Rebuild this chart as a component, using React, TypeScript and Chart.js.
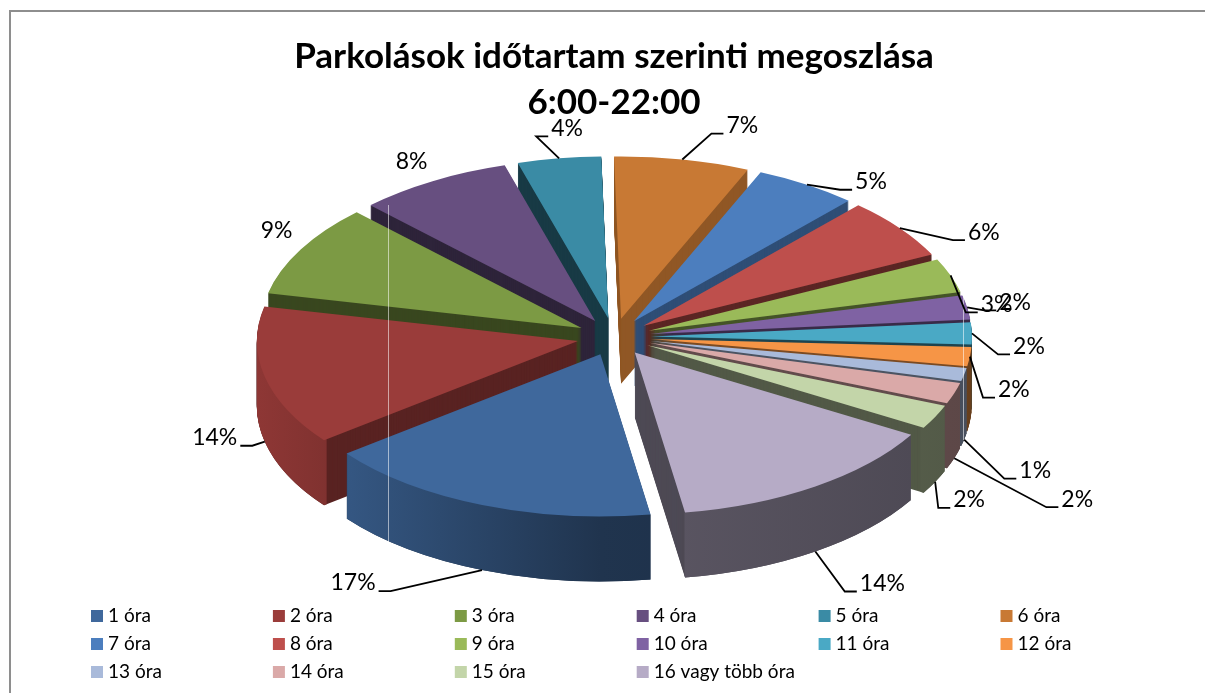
import React, { useEffect, useRef } from "react";
import { Chart, registerables } from "chart.js";

Chart.register(...registerables);

const titleLines = ["Parkolások időtartam szerinti megoszlása", "6:00-22:00"];
const categories = [
  "1 óra", "2 óra", "3 óra", "4 óra", "5 óra", "6 óra", "7 óra", "8 óra",
  "9 óra", "10 óra", "11 óra", "12 óra", "13 óra", "14 óra", "15 óra", "16 vagy több óra",
];
const shares = [17.0, 13.9, 9.2, 7.8, 4.2, 6.8, 5.2, 6.1, 3.4, 2.4, 2.2, 1.9, 1.3, 2.1, 2.4, 14.0];
const sliceColors = [
  "#3F689C", "#9A3C3A", "#7C9A44", "#674F80", "#3A8BA5", "#C87934", "#4C7EBE", "#BE4F4C",
  "#9ABA59", "#7F62A3", "#4AA9C5", "#F69546", "#A9BADA", "#DAA9A8", "#C3D5A9", "#B6ABC6",
];
const radialWallShade = [0.5, 0.58, 0.46, 0.45, 0.42, 0.72, 0.62, 0.48, 0.45, 0.45, 0.4, 0.5, 0.45, 0.45, 0.42, 0.43];
const labelDx = [-129, -50, -24, -21, 8, 60, 64, 84, 46, 48, 57, 44, 71, 123, 34, 67];
const labelDy = [13, -4, -19, -20, -30, -34, -3, 4, 29, -5, 13, 33, 31, 41, 18, 32];
const hasLeader = [1, 1, 0, 0, 1, 1, 1, 1, 1, 1, 1, 1, 1, 1, 1, 1];

const CX = 614;
const CY = 337;
const RADIUS = 321;
const SQUASH = 0.505;
const EXPLODE = 37;
const DEPTH = 65;
const FONT = "Lato, 'Open Sans', sans-serif";

function shade(hex: string, f: number) {
  const n = parseInt(hex.slice(1), 16);
  const r = Math.round(((n >> 16) & 255) * f);
  const g = Math.round(((n >> 8) & 255) * f);
  const b = Math.round((n & 255) * f);
  return `rgb(${r},${g},${b})`;
}

const baseOpts = {
  borderWidth: 0,
  borderColor: "transparent",
  borderAlign: "center",
  borderRadius: 0,
  borderJoinStyle: "round",
  borderDash: [],
  borderDashOffset: 0,
  offset: 0,
  spacing: 0,
  circular: true,
};

// Parts of a slice's angular span that face the viewer (lower half of the ellipse).
function frontSpans(start: number, end: number) {
  const spans: [number, number][] = [];
  for (let k = -2; k <= 2; k++) {
    const a = Math.max(start, k * 2 * Math.PI);
    const b = Math.min(end, k * 2 * Math.PI + Math.PI);
    if (b > a) spans.push([a, b]);
  }
  return spans;
}

const pie3d = {
  id: "pie3d",
  beforeDraw(chart: any) {
    const { ctx } = chart;
    ctx.save();
    ctx.strokeStyle = "#8e8e8e";
    ctx.lineWidth = 2;
    ctx.beginPath();
    ctx.moveTo(10, 693);
    ctx.lineTo(10, 11);
    ctx.lineTo(1205, 11);
    ctx.stroke();
    ctx.restore();
  },
  beforeDatasetDraw(chart: any) {
    const { ctx } = chart;
    const arcs: any[] = chart.getDatasetMeta(0).data;
    const order = arcs
      .map((arc, i) => ({ arc, i, mid: (arc.startAngle + arc.endAngle) / 2 }))
      .sort((a, b) => Math.sin(a.mid) - Math.sin(b.mid));

    const place = (arc: any, mid: number, down: number) => {
      ctx.save();
      ctx.translate(CX, CY + down);
      ctx.scale(1, SQUASH);
      ctx.translate(Math.cos(mid) * EXPLODE - arc.x, Math.sin(mid) * EXPLODE - arc.y);
    };

    for (const { arc, i, mid } of order) {
      const saved = arc.options;
      const base = sliceColors[i];
      // radial walls
      arc.options = { ...baseOpts, backgroundColor: shade(base, radialWallShade[i]) };
      for (let d = DEPTH; d >= 1; d--) {
        place(arc, mid, d);
        arc.draw(ctx);
        ctx.restore();
      }
      // rounded outer wall: only where it faces the viewer
      const g = ctx.createLinearGradient(arc.x - RADIUS, 0, arc.x + RADIUS, 0);
      g.addColorStop(0, shade(base, 0.92));
      g.addColorStop(0.5, shade(base, 0.5));
      g.addColorStop(1, shade(base, 0.42));
      arc.options = { ...baseOpts, backgroundColor: g };
      const keep = {
        innerRadius: arc.innerRadius,
        startAngle: arc.startAngle,
        endAngle: arc.endAngle,
        circumference: arc.circumference,
      };
      arc.innerRadius = arc.outerRadius - 4;
      for (const [a, b] of frontSpans(keep.startAngle, keep.endAngle)) {
        arc.startAngle = a;
        arc.endAngle = b;
        arc.circumference = b - a;
        for (let d = DEPTH; d >= 1; d--) {
          place(arc, mid, d);
          arc.draw(ctx);
          ctx.restore();
        }
      }
      Object.assign(arc, keep);
      // top face
      arc.options = { ...baseOpts, backgroundColor: base };
      place(arc, mid, 0);
      arc.draw(ctx);
      ctx.restore();
      arc.options = saved;
    }
    return false;
  },
  afterDraw(chart: any) {
    const { ctx } = chart;
    const arcs: any[] = chart.getDatasetMeta(0).data;
    ctx.save();
    // thin light seams of the source picture
    ctx.strokeStyle = "rgba(255,255,255,0.55)";
    ctx.lineWidth = 1;
    ctx.beginPath();
    ctx.moveTo(388.5, 205);
    ctx.lineTo(388.5, 543);
    ctx.moveTo(963.5, 293);
    ctx.lineTo(963.5, 440);
    ctx.stroke();

    // percentage labels and leaders
    ctx.font = `23px ${FONT}`;
    ctx.textBaseline = "middle";
    ctx.textAlign = "center";
    const r = RADIUS + EXPLODE;
    arcs.forEach((arc, i) => {
      const mid = (arc.startAngle + arc.endAngle) / 2;
      const ax = CX + Math.cos(mid) * r;
      const midDeg = ((mid * 180) / Math.PI + 90 + 360) % 360;
      const front = midDeg > 100 && midDeg < 260;
      const ay = CY + Math.sin(mid) * r * SQUASH + (front ? DEPTH : 0);
      const tx = ax + labelDx[i];
      const ty = ay + labelDy[i];
      const text = `${Math.round(shares[i])}%`;
      if (hasLeader[i]) {
        const half = ctx.measureText(text).width / 2;
        const side = tx > ax ? -1 : 1;
        const sy = ty + 8;
        const sEnd = tx + side * (half + 3);
        const sMid = sEnd + side * 12;
        ctx.strokeStyle = "#000";
        ctx.lineWidth = 1.8;
        ctx.beginPath();
        ctx.moveTo(ax, ay);
        ctx.lineTo(sMid, sy);
        ctx.lineTo(sEnd, sy);
        ctx.stroke();
      }
      ctx.fillStyle = "#000";
      ctx.fillText(text, tx, ty);
    });

    // six-column legend
    ctx.font = `19px ${FONT}`;
    ctx.textAlign = "left";
    categories.forEach((name, i) => {
      const col = i % 6;
      const row = Math.floor(i / 6);
      const x = 91 + col * 181.9;
      const y = 616 + row * 28;
      ctx.fillStyle = sliceColors[i];
      ctx.fillRect(x, y - 6, 12, 12);
      ctx.fillStyle = "#000";
      ctx.fillText(name, x + 17, y);
    });
    ctx.restore();
  },
};

export default function App() {
  const ref = useRef<HTMLCanvasElement>(null);
  useEffect(() => {
    const chart = new Chart(ref.current!, {
      type: "pie",
      data: {
        labels: categories,
        datasets: [{ data: shares, backgroundColor: sliceColors, borderWidth: 0 }],
      },
      options: {
        animation: false,
        responsive: false,
        rotation: 171,
        radius: RADIUS,
        layout: { padding: { left: 23, top: 34 } },
        plugins: {
          legend: { display: false },
          tooltip: { enabled: false },
          title: {
            display: true,
            text: titleLines,
            color: "#000",
            font: { family: FONT, size: 35, weight: "bold", lineHeight: 1.3 },
            padding: 0,
          },
        },
      },
      plugins: [pie3d],
    } as any);
    return () => chart.destroy();
  }, []);
  return (
    <div style={{ position: "absolute", left: 0, top: 0, width: 1205, height: 693, background: "#fff" }}>
      <canvas ref={ref} width={1205} height={693} style={{ display: "block" }} />
    </div>
  );
}
